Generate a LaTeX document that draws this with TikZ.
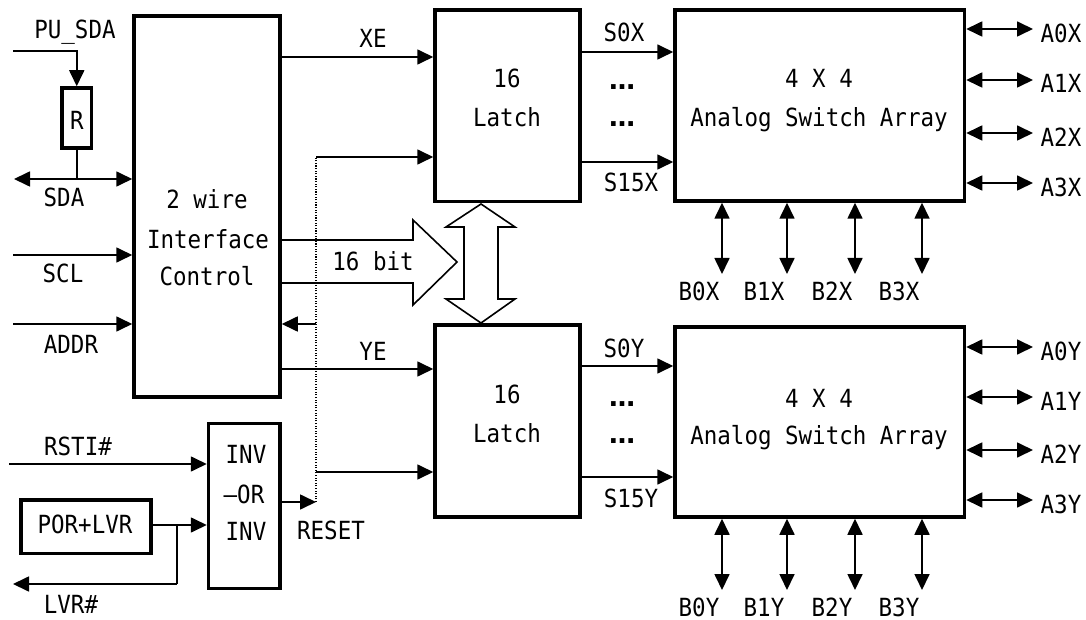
\documentclass[tikz,border=0pt]{standalone}
\usepackage{fontspec}
\newfontfamily\monof[FakeStretch=0.9]{DejaVu Sans Mono}
\newfontfamily\dsans{DejaVu Sans}
\usetikzlibrary{arrows.meta}
\begin{document}
\begin{tikzpicture}[x=1pt,y=-1pt,
  box/.style={draw, line width=3.5pt, inner sep=0pt},
  wire/.style={line width=1.7pt},
  arr/.style={wire, -{Triangle[length=16pt,width=15pt]}},
  barr/.style={wire, {Triangle[length=16pt,width=15pt]}-{Triangle[length=16pt,width=15pt]}},
  lbl/.style={font=\monof\fontsize{25}{29}\selectfont, inner sep=0pt, anchor=base},
  dotsty/.style={font=\dsans\bfseries\fontsize{26}{30}\selectfont, inner sep=0pt, anchor=base},
  outline/.style={line width=1.6pt, line join=miter},
  dotline/.style={line width=1.1pt, dash pattern=on 1.1pt off 1.5pt}
]
\path[use as bounding box] (0,0) rectangle (1086,620);

% boxes
\node[box, minimum width=146pt, minimum height=381pt] (ifc) at (207,206.5) {};
\node[box, minimum width=29.5pt, minimum height=60pt] (R) at (76.75,118) {};
\node[box, minimum width=145pt, minimum height=191.5pt] (latchX) at (507.5,105.75) {};
\node[box, minimum width=145pt, minimum height=192pt] (latchY) at (507.5,421) {};
\node[box, minimum width=289.5pt, minimum height=191pt] (anaX) at (819.75,105.5) {};
\node[box, minimum width=289.5pt, minimum height=190pt] (anaY) at (819.75,422) {};
\node[box, minimum width=71.5pt, minimum height=165pt] (inv) at (244.25,506) {};
\node[box, minimum width=130pt, minimum height=53.5pt] (por) at (86,526.75) {};

% box texts
\node[lbl] (tR) at (77,130) {R};
\node[lbl] (t2w) at (207,209) {2 wire};
\node[lbl] (tif) at (208,248) {Interface};
\node[lbl] (tct) at (207,285) {Control};
\node[lbl] (tlx1) at (507,88) {16};
\node[lbl] (tlx2) at (507,127) {Latch};
\node[lbl] (tly1) at (507,403) {16};
\node[lbl] (tly2) at (507,442) {Latch};
\node[lbl] (tax1) at (819,88) {4 X 4};
\node[lbl] (tax2) at (819,127) {Analog Switch Array};
\node[lbl] (tay1) at (819,407) {4 X 4};
\node[lbl] (tay2) at (819,444) {Analog Switch Array};
\node[lbl] (tinv1) at (246,463) {INV};
\node[lbl] (tinv2) at (244,503) {–OR};
\node[lbl] (tinv3) at (246,540) {INV};
\node[lbl] (tpor) at (85,533) {POR+LVR};

% free ends
\coordinate (pu) at (13,51);
\coordinate (sdaL) at (14,179);
\coordinate (sclL) at (13,255);
\coordinate (addrL) at (13,324);
\coordinate (rstiL) at (9,464);
\coordinate (jn) at (177,525);
\coordinate (lvrL) at (13,584);
\coordinate (rst) at (316,502);
\coordinate (dtop) at (316,157);
\coordinate (dmid) at (316,324);
\coordinate (dlow) at (316,472);

% left side
\draw[arr] (pu) -| (R.north);
\draw[barr] (sdaL) -- (ifc.west |- sdaL);
\draw[wire] (R.south) -- (R.south |- sdaL);
\draw[arr] (sclL) -- (ifc.west |- sclL);
\draw[arr] (addrL) -- (ifc.west |- addrL);
\draw[arr] (rstiL) -- (inv.west |- rstiL);
\draw[arr] (por.east |- jn) -- (inv.west |- jn);
\draw[wire] (jn) -- (jn |- lvrL);
\draw[arr] (jn |- lvrL) -- (lvrL);
\draw[arr] (inv.east |- rst) -- (rst);
\draw[dotline] (rst) -- (dtop);
\draw[arr] (dtop) -- (latchX.west |- dtop);
\draw[arr] (dmid) -- (ifc.east |- dmid);
\draw[arr] (dlow) -- (latchY.west |- dlow);
\draw[arr] (ifc.east |- 0,57) -- (latchX.west |- 0,57);
\draw[arr] (ifc.east |- 0,369) -- (latchY.west |- 0,369);

% 16 bit bus arrow
\draw[outline] (ifc.east |- 0,240) -- (413,240) -- (413,220) -- (457,262) -- (413,305) -- (413,283) -- (ifc.east |- 0,283);
% double arrow between latches
\draw[outline] (481,204) -- (515,227) -- (498,227) -- (498,299) -- (515,299) -- (481,323) -- (446,299) -- (464,299) -- (464,227) -- (446,227) -- cycle;

% latch to analog
\draw[arr] (latchX.east |- 0,52) -- (anaX.west |- 0,52);
\draw[arr] (latchX.east |- 0,162) -- (anaX.west |- 0,162);
\draw[arr] (latchY.east |- 0,366) -- (anaY.west |- 0,366);
\draw[arr] (latchY.east |- 0,477) -- (anaY.west |- 0,477);

% A lines
\foreach \y/\n in {29/0,80/1,133/2,183/3}{
  \coordinate (ax\n) at (1033,\y);
  \draw[barr] (anaX.east |- ax\n) -- (ax\n);
}
\foreach \y/\n in {347/0,397/1,450/2,500/3}{
  \coordinate (ay\n) at (1033,\y);
  \draw[barr] (anaY.east |- ay\n) -- (ay\n);
}
% B lines
\foreach \x/\n in {722/0,787/1,855/2,922/3}{
  \coordinate (bx\n) at (\x,274);
  \draw[barr] (anaX.south -| bx\n) -- (bx\n);
  \coordinate (by\n) at (\x,590);
  \draw[barr] (anaY.south -| by\n) -- (by\n);
}

% labels
\node[lbl] (lpu) at (75,39) {PU\_SDA};
\node[lbl] (lsda) at (64,207) {SDA};
\node[lbl] (lscl) at (63,283) {SCL};
\node[lbl] (laddr) at (71,353) {ADDR};
\node[lbl] (lrsti) at (78,455) {RSTI\#};
\node[lbl] (llvr) at (71,613) {LVR\#};
\node[lbl] (lreset) at (331,539) {RESET};
\node[lbl] (lxe) at (373,48) {XE};
\node[lbl] (lye) at (373,360) {YE};
\node[lbl] (lbit) at (373,270) {16 bit};
\node[lbl] (ls0x) at (624,42) {S0X};
\node[lbl] (ls15x) at (631,192) {S15X};
\node[lbl] (ls0y) at (624,357) {S0Y};
\node[lbl] (ls15y) at (631,507) {S15Y};
\node[dotsty] (d1) at (622,90) {…};
\node[dotsty] (d2) at (622,127) {…};
\node[dotsty] (d3) at (622,406) {…};
\node[dotsty] (d4) at (622,443) {…};
\node[lbl] (la0x) at (1061,43) {A0X};
\node[lbl] (la1x) at (1061,93) {A1X};
\node[lbl] (la2x) at (1061,147) {A2X};
\node[lbl] (la3x) at (1061,197) {A3X};
\node[lbl] (la0y) at (1061,360) {A0Y};
\node[lbl] (la1y) at (1061,410) {A1Y};
\node[lbl] (la2y) at (1061,463) {A2Y};
\node[lbl] (la3y) at (1061,513) {A3Y};
\node[lbl] (lb0x) at (699,300) {B0X};
\node[lbl] (lb1x) at (764,300) {B1X};
\node[lbl] (lb2x) at (832,300) {B2X};
\node[lbl] (lb3x) at (899,300) {B3X};
\node[lbl] (lb0y) at (699,616) {B0Y};
\node[lbl] (lb1y) at (764,616) {B1Y};
\node[lbl] (lb2y) at (832,616) {B2Y};
\node[lbl] (lb3y) at (899,616) {B3Y};
\end{tikzpicture}
\end{document}
